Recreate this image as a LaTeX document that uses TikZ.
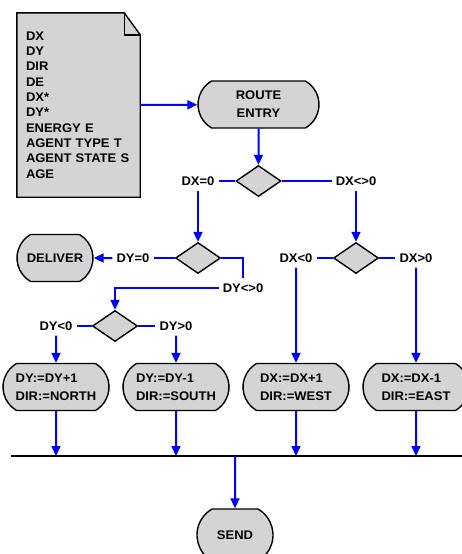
\documentclass[tikz,border=0pt]{standalone}
\usepackage{xcolor}
\usepackage{tikz}
\usepackage{fontspec}
\setmainfont{Liberation Sans}[FakeStretch=1.04]
\usetikzlibrary{arrows.meta}
\usetikzlibrary{calc,positioning,shapes.geometric,shapes.misc,backgrounds}
\definecolor{flowblue}{rgb}{0,0,1}
\definecolor{boxgray}{rgb}{0.83,0.83,0.83}
\tikzset{%
  >={Triangle[width=9pt,length=10pt]},
  % Specifications for style of nodes:
  terminal/.style = {rounded rectangle, rounded rectangle arc length=120,
    draw=black, line width=1.4pt, fill=boxgray,
    minimum height=47pt, inner sep=0pt, align=center,
    font=\bfseries\fontsize{12.5}{18}\selectfont},
  action/.style = {terminal, minimum width=106pt, align=left},
  decision/.style = {diamond, draw=black, line width=1.4pt, fill=boxgray,
    minimum width=45pt, minimum height=31pt, inner sep=0pt},
  cond/.style = {fill=white, inner xsep=4pt, inner ysep=5pt,
    font=\bfseries\fontsize{12.5}{14}\selectfont},
  memo/.style = {rectangle, minimum width=122pt, minimum height=184pt,
    text width=105pt, inner xsep=9pt, align=left,
    font=\bfseries\fontsize{12.5}{15.3}\selectfont},
  flow/.style = {draw=flowblue, line width=2pt},
}

\begin{document}
\begin{tikzpicture}[x=1pt, y=-1pt]
  \useasboundingbox (0,0) rectangle (462,554);
  % Specification of nodes (position, etc.)
  \node(Memo)[memo, at={(78.5,105)}]{DX\\DY\\DIR\\DE\\DX*\\DY*\\ENERGY E\\AGENT TYPE T\\AGENT STATE S\\AGE};
  \begin{scope}[on background layer]
    \draw[line width=1.4pt, fill=boxgray]
      (Memo.north west) -- ($(Memo.north east)+(-16,0)$) -- ($(Memo.north east)+(0,22)$)
      -- (Memo.south east) -- (Memo.south west) -- cycle;
    \draw[line width=1.4pt]($(Memo.north east)+(-16,0)$) -- ++(0,22) -- ++(16,0);
  \end{scope}
  \node(Entry)[terminal, minimum width=121pt, at={(258.5,104.5)}]{ROUTE\\ENTRY};
  \node(DecX)[decision, at={(258.5,181)}]{};
  \node(DXzero)[cond, at={(198,181)}]{DX=0};
  \node(DXnot)[cond, at={(356,181)}]{DX<>0};
  \node(DecY)[decision, at={(198,258)}]{};
  \node(DecDX)[decision, at={(356,258)}]{};
  \node(Deliver)[terminal, minimum width=76pt, at={(55,258)}]{DELIVER};
  \node(DYzero)[cond, at={(133,258)}]{DY=0};
  \node(DXneg)[cond, at={(296,258)}]{DX<0};
  \node(DXpos)[cond, at={(416,258)}]{DX>0};
  \node(DYnot)[cond, at={(243,288)}]{DY<>0};
  \node(DecDY)[decision, at={(115,326)}]{};
  \node(DYneg)[cond, at={(56,326)}]{DY<0};
  \node(DYpos)[cond, at={(176,326)}]{DY>0};
  \node(North)[action, at={(56,387)}]{DY:=DY+1\\DIR:=NORTH};
  \node(South)[action, at={(176,387)}]{DY:=DY-1\\DIR:=SOUTH};
  \node(West)[action, at={(296,387)}]{DX:=DX+1\\DIR:=WEST};
  \node(East)[action, at={(416,387)}]{DX:=DX-1\\DIR:=EAST};
  \node(Send)[terminal, minimum width=76pt, minimum height=52pt, at={(235,535)}]{SEND};
  \coordinate(BusL) at (11,456);
  \coordinate(BusR) at (462,456);
  % Connectors
  \draw[flow,->](Memo.east) -- (Entry);
  \draw[flow,->](Entry) -- (DecX);
  \draw[flow](DecX) -- (DXzero);
  \draw[flow](DecX) -- (DXnot);
  \draw[flow,->](DXzero) -- (DecY);
  \draw[flow,->](DXnot) -- (DecDX);
  \draw[flow](DecY) -- (DYzero);
  \draw[flow,->](DYzero) -- (Deliver);
  \draw[flow](DecY.east) -| (DYnot.north);
  \draw[flow,->](DYnot.west) -| (DecDY.north);
  \draw[flow](DecDY) -- (DYneg);
  \draw[flow](DecDY) -- (DYpos);
  \draw[flow](DecDX) -- (DXneg);
  \draw[flow](DecDX) -- (DXpos);
  \draw[flow,->](DYneg) -- (North);
  \draw[flow,->](DYpos) -- (South);
  \draw[flow,->](DXneg) -- (West);
  \draw[flow,->](DXpos) -- (East);
  \draw[line width=2pt](BusL) -- (BusR);
  \foreach \act in {North,South,West,East}
    \draw[flow,->](\act) -- (\act |- BusL);
  \draw[flow,->](Send |- BusL) -- (Send);
\end{tikzpicture}
\end{document}
